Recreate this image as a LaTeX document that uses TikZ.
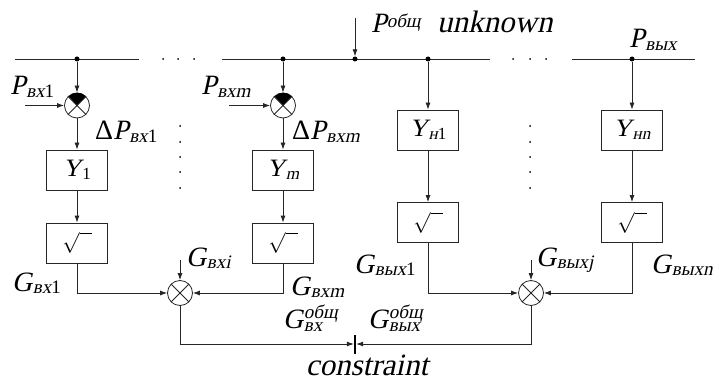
\documentclass[tikz,border=0pt]{standalone}
\usepackage{fontspec}
\setmainfont{Liberation Serif}[ItalicFont={Liberation Serif}, ItalicFeatures={FakeSlant=0.22}]
\usetikzlibrary{arrows.meta}
\newcommand\bigf{\fontsize{28}{28}\selectfont\itshape}
\newcommand\smf{\fontsize{19}{19}\selectfont\itshape}
\newcommand\lbl[2]{{\bigf #1}\kern0.5pt\raisebox{-0.25em}{\smf #2}}
\newcommand\boxl[2]{{\fontsize{25}{25}\selectfont\itshape #1}\kern1pt\raisebox{-0.25em}{\fontsize{17}{17}\selectfont\itshape #2}}
\newcommand\gtot[1]{{\bigf G}\kern0.5pt\raisebox{-0.3em}{\rlap{\raisebox{1.3em}{\smf общ}}\smf #1}}
\newcommand\sqrtsym{{\fontsize{20}{20}\selectfont$\sqrt{\hphantom{n}}$}}
\begin{document}
\begin{tikzpicture}[x=1pt,y=-1pt,
  ln/.style={line width=0.8pt, draw=black!85},
  arr/.style={ln,-{Latex[length=7pt,width=5pt]}},
  blk/.style={ln, draw, minimum width=61pt, minimum height=40pt, inner sep=0pt},
  sumn/.style={ln, draw, circle, minimum size=25pt, inner sep=0pt},
  jdot/.style={circle, fill=black, minimum size=5pt, inner sep=0pt},
  sdot/.style={circle, fill=black, minimum size=2pt, inner sep=0pt},
  txt/.style={inner sep=0pt, anchor=base west}]
\useasboundingbox (0,0) rectangle (722,382);
% bus
\draw[ln] (15,59) -- (139,59);
\draw[ln] (222,59) -- (490,59);
\draw[ln] (572,59) -- (695,59);
\foreach \x in {163,178,194,513,530,546} \node[sdot] at (\x,59) {};
\foreach \y in {126,142,157,172,188} {\node[sdot] at (180,\y) {}; \node[sdot] at (530,\y) {};}
% junctions
\node[jdot] (J1) at (77,59) {};
\node[jdot] (Jm) at (283,59) {};
\node[jdot] (J0) at (355,59) {};
\node[jdot] (Jn1) at (428,59) {};
\node[jdot] (Jnn) at (632,59) {};
\coordinate (Ptop) at (355,18);
% top summing junctions
\node[sumn] (S1) at (77,105.5) {};
\node[sumn] (Sm) at (283,105.5) {};
\foreach \s in {S1,Sm} {
  \fill (\s.center) -- (\s.north east) arc[start angle=45,end angle=135,radius=12.5pt] -- cycle;
  \draw[ln] (\s.north east) -- (\s.south west) (\s.north west) -- (\s.south east);
}
\coordinate (Pin1) at (25,105.5);
\coordinate (Pinm) at (229,105.5);
% blocks
\node[blk] (Y1) at (77,170) {\boxl{Y}{\upshape 1}};
\node[blk] (Ym) at (283,170) {\boxl{Y}{m}};
\node[blk] (R1) at (77,243) {\sqrtsym};
\node[blk] (Rm) at (283,243) {\sqrtsym};
\node[blk] (Yn1) at (428,130) {\boxl{Y}{н\upshape 1}};
\node[blk] (Ynn) at (632,130) {\boxl{Y}{нn}};
\node[blk] (Rn1) at (428,222.5) {\sqrtsym};
\node[blk] (Rnn) at (632,222.5) {\sqrtsym};
% lower summing junctions
\node[sumn] (C1) at (180,293) {};
\node[sumn] (C2) at (531,293) {};
\foreach \s in {C1,C2} \draw[ln] (\s.north east) -- (\s.south west) (\s.north west) -- (\s.south east);
\coordinate (Gi) at (180,260);
\coordinate (Gj) at (531,260);
\node[fill=black, minimum width=2pt, minimum height=19pt, inner sep=0pt] (bar) at (355,344) {};
% connectors
\draw[arr] (Ptop) -- (J0);
\draw[arr] (J1) -- (S1);
\draw[arr] (Jm) -- (Sm);
\draw[arr] (Pin1) -- (S1.west);
\draw[arr] (Pinm) -- (Sm.west);
\draw[arr] (S1) -- (Y1);
\draw[arr] (Sm) -- (Ym);
\draw[arr] (Y1) -- (R1);
\draw[arr] (Ym) -- (Rm);
\draw[arr] (Jn1) -- (Yn1);
\draw[arr] (Jnn) -- (Ynn);
\draw[arr] (Yn1) -- (Rn1);
\draw[arr] (Ynn) -- (Rnn);
\draw[arr] (R1.south) |- (C1.west);
\draw[arr] (Rm.south) |- (C1.east);
\draw[arr] (Rn1.south) |- (C2.west);
\draw[arr] (Rnn.south) |- (C2.east);
\draw[arr] (Gi) -- (C1.north);
\draw[arr] (Gj) -- (C2.north);
\draw[arr] (C1.south) |- (bar.west);
\draw[arr] (C2.south) |- (bar.east);
% labels
\node[txt] (lPtop) at (371,33) {{\bigf P}\raisebox{0.5em}{\smf общ}};
\node[txt] (lunk) at (437,33) {\fontsize{31}{31}\selectfont\itshape unknown};
\node[txt] (lPout) at (629,48) {\lbl{P}{вых}};
\node[txt] (lP1) at (10,95) {\lbl{P}{вх\upshape 1}};
\node[txt] (lPm) at (201,95) {\lbl{P}{вхm}};
\node[txt] (lD1) at (95,140) {\lbl{{\upshape Δ}P}{вх\upshape 1}};
\node[txt] (lDm) at (292,140) {\lbl{{\upshape Δ}P}{вхm}};
\node[txt] (lG1) at (12,291) {\lbl{G}{вх\upshape 1}};
\node[txt] (lGi) at (186,266) {\lbl{G}{вхi}};
\node[txt] (lGm) at (290,295) {\lbl{G}{вхm}};
\node[txt] (lGo1) at (354,273) {\lbl{G}{вых\upshape 1}};
\node[txt] (lGj) at (536,266) {\lbl{G}{выхj}};
\node[txt] (lGn) at (651,273) {\lbl{G}{выхn}};
\node[txt] (lGin) at (283,328) {\gtot{вх}};
\node[txt] (lGout) at (368,328) {\gtot{вых}};
\node[inner sep=0pt, anchor=base] (lcons) at (367,375) {\fontsize{31}{31}\selectfont\itshape constraint};
\end{tikzpicture}
\end{document}
